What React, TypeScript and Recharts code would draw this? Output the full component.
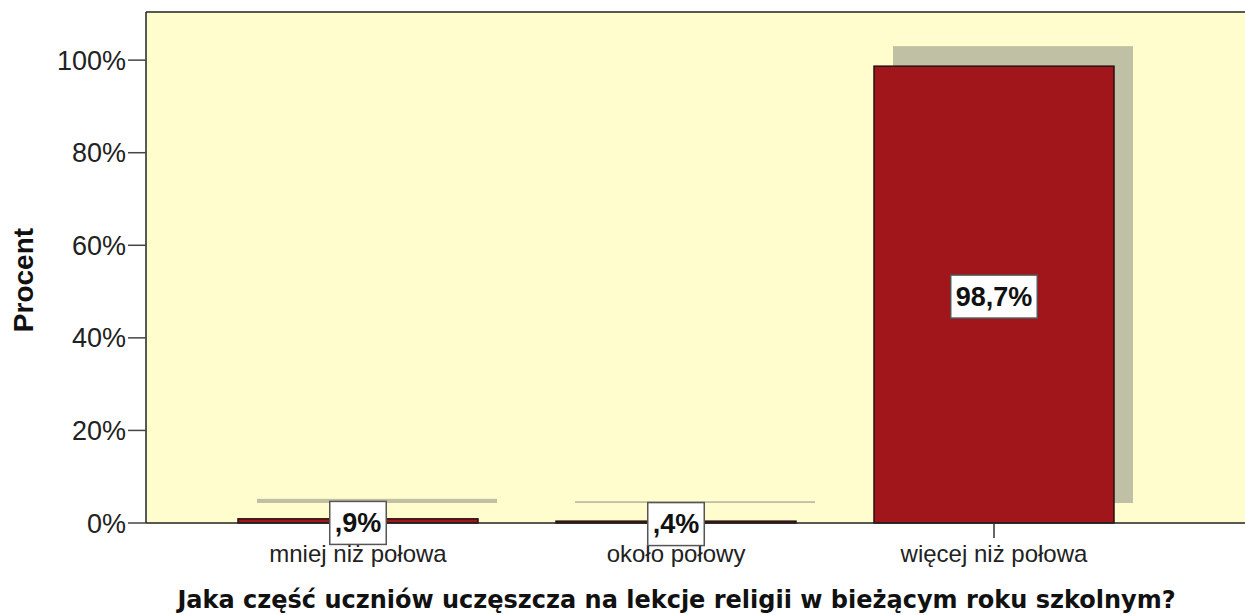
import { Bar, BarChart, CartesianGrid, Label, LabelList, ReferenceLine, XAxis, YAxis } from "recharts"

const categories = ["mniej niż połowa", "około połowy", "więcej niż połowa"]
const percentValues = [0.9, 0.4, 98.7]
const yTicks = [0, 20, 40, 60, 80, 100]
const yMax = 110.4

const chartData = categories.map((name, i) => ({ name, pct: percentValues[i] }))

const sansFont = "'Liberation Sans', Arial, sans-serif"

// SPSS style: ",9%" instead of "0,9%"
const formatPct = (v: number) => v.toFixed(1).replace(".", ",").replace(/^0/, "") + "%"

const charWidth = (ch: string) => (ch === "," ? 0.278 : ch === "%" ? 0.889 : 0.556)

const ShadowBar = (props: any) => {
  const { x, y, width, height, fill } = props
  if (width == null || height == null) return null
  return (
    <g>
      <rect x={x + 19} y={y - 20} width={width} height={height} fill="#c0c0a5" />
      <rect x={x} y={y} width={width} height={height} fill={fill} stroke="#2a1010" strokeWidth={1.5} />
    </g>
  )
}

const BoxLabel = (props: any) => {
  const vb = props.viewBox || props
  const { x, y, width, height } = vb
  const text = formatPct(Number(props.value))
  const fs = 27
  const tw = text.split("").reduce((s, ch) => s + charWidth(ch), 0) * fs
  const bw = tw + 10
  const bh = 43
  const cx = x + width / 2
  const cy = y + height / 2 + 2
  return (
    <g>
      <rect x={cx - bw / 2} y={cy - bh / 2} width={bw} height={bh} fill="#fff" stroke="#555" strokeWidth={1.5} />
      <text x={cx} y={cy} textAnchor="middle" dominantBaseline="central" fontFamily={sansFont} fontWeight={700} fontSize={fs} fill="#111">
        {text}
      </text>
    </g>
  )
}

const YTitle = () => (
  <text
    transform="translate(33,280) rotate(-90)"
    textAnchor="middle"
    fontFamily={sansFont}
    fontWeight={700}
    fontSize={28}
    fill="#111"
  >
    Procent
  </text>
)

export default function App() {
  return (
    <div style={{ position: "absolute", left: 0, top: 0, width: 1245, height: 615, overflow: "hidden", background: "#fff" }}>
      <BarChart width={1245} height={615} data={chartData} margin={{ top: 12, right: 0, bottom: 0, left: 0 }}>
        <CartesianGrid fill="#fffdcd" horizontal={false} vertical={false} />
        <XAxis
          dataKey="name"
          height={92}
          padding={{ left: 53, right: 92 }}
          axisLine={{ stroke: "#222", strokeWidth: 1.5 }}
          tickLine={{ stroke: "#333", strokeWidth: 1.5 }}
          tickSize={15}
          tickMargin={7}
          tick={{ fill: "#222", fontSize: 24, fontFamily: sansFont }}
        >
          <Label
            value="Jaka część uczniów uczęszcza na lekcje religii w bieżącym roku szkolnym?"
            position="insideBottom"
            offset={7}
            dx={-19}
            style={{ fontFamily: "'DejaVu Sans', Verdana, sans-serif", fontWeight: 700, fontSize: 24, fill: "#111" }}
          />
        </XAxis>
        <YAxis
          width={146}
          domain={[0, yMax]}
          ticks={yTicks}
          tickFormatter={(v: number) => `${v}%`}
          axisLine={{ stroke: "#222", strokeWidth: 1.5 }}
          tickLine={{ stroke: "#444", strokeWidth: 1.5 }}
          tickSize={18}
          tickMargin={2}
          tick={{ fill: "#222", fontSize: 27, fontFamily: sansFont }}
          label={<YTitle />}
        />
        <ReferenceLine y={yMax} stroke="#222" strokeWidth={1.5} />
        <Bar dataKey="pct" fill="#a0161b" barSize={240} shape={(p: any) => <ShadowBar {...p} />} isAnimationActive={false}>
          <LabelList dataKey="pct" content={(p: any) => <BoxLabel {...p} />} />
        </Bar>
      </BarChart>
    </div>
  )
}
